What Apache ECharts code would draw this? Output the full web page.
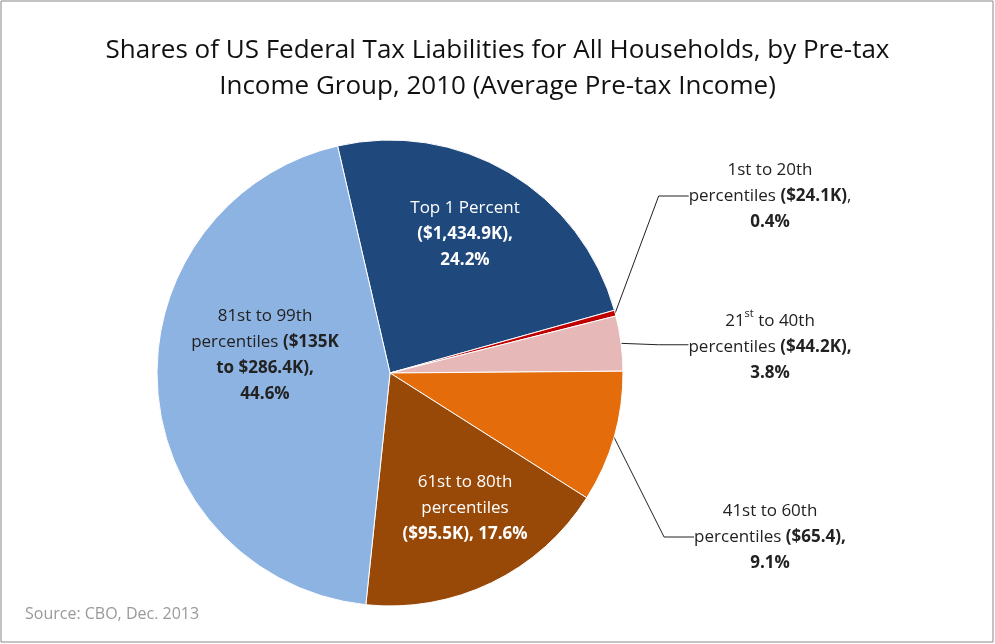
<!DOCTYPE html>
<html><head><meta charset="utf-8">
<script src="https://cdn.jsdelivr.net/npm/echarts@6/dist/echarts.min.js"></script>
<style>html,body{margin:0;padding:0;background:#fff}#c{width:995px;height:644px}</style>
</head><body><div id="c"></div>
<script>
const groups = ['Top 1 Percent', '1st to 20th', '21st to 40th', '41st to 60th', '61st to 80th', '81st to 99th'];
const shares = [24.2, 0.4, 3.8, 9.1, 17.6, 44.6];
const incomes = ['$1,434.9K', '$24.1K', '$44.2K', '$65.4', '$95.5K', '$135K to $286.4K'];
const colors = ['#1f497d', '#c00000', '#e6b9b8', '#e46c0a', '#984807', '#8db3e2'];

// texto de cada etiqueta (rich)
const labelTexts = [
  '{n|Top 1 Percent}\n{b|(' + incomes[0] + '),}\n{b|' + shares[0] + '%}',
  '{d|1st to 20th}\n{d|percentiles }{db|(' + incomes[1] + ')}{d|,}\n{db|' + shares[1] + '%}',
  '{d|21}{sup|st}{d| to 40th}\n{d|percentiles }{db|(' + incomes[2] + '),}\n{db|' + shares[2] + '%}',
  '{d|41st to 60th}\n{d|percentiles }{db|(' + incomes[3] + '),}\n{db|' + shares[3] + '%}',
  '{n|61st to 80th}\n{n|percentiles}\n{b|(' + incomes[4] + '), ' + shares[4] + '%}',
  '{d|81st to 99th}\n{d|percentiles }{db|($135K}\n{db|to $286.4K),}\n{db|' + shares[5] + '%}'
];
const labelPos = [[465, 234], [770, 196], [770, 347], [770, 537], [465, 508], [265, 355]];

const font = 'Open Sans, Lato, sans-serif';
const rich = {
  n: { color: '#fff', fontSize: 17, fontFamily: font, lineHeight: 26 },
  b: { color: '#fff', fontSize: 17, fontWeight: 'bold', fontFamily: font, lineHeight: 26 },
  d: { color: '#222', fontSize: 17, fontFamily: font, lineHeight: 26 },
  db: { color: '#222', fontSize: 17, fontWeight: 'bold', fontFamily: font, lineHeight: 26 },
  sup: { color: '#222', fontSize: 11, fontFamily: font, verticalAlign: 'top', lineHeight: 26 }
};

const chart = echarts.init(document.getElementById('c'));
chart.setOption({
  backgroundColor: '#fff',
  title: {
    text: 'Shares of US Federal Tax Liabilities for All Households, by Pre-tax\nIncome Group, 2010 (Average Pre-tax Income)',
    left: 'center', top: 28,
    textStyle: { fontFamily: font, fontSize: 26, fontWeight: 'normal', color: '#111', lineHeight: 36 }
  },
  graphic: [
    { type: 'rect', shape: { x: 1, y: 1, width: 992, height: 641 }, style: { fill: 'none', stroke: '#888', lineWidth: 1 } },
    { type: 'text', left: 25, top: 606, style: { text: 'Source: CBO, Dec. 2013', fill: '#999', font: '16px ' + font } }
  ],
  series: [{
    type: 'pie',
    center: [390, 373],
    radius: [0, 233],
    startAngle: 103,
    clockwise: true,
    silent: true,
    itemStyle: { borderColor: '#fff', borderWidth: 1 },
    data: groups.map((g, i) => ({
      name: g, value: shares[i],
      itemStyle: { color: colors[i] },
      label: {
        show: true, position: (i >= 1 && i <= 3) ? 'outside' : 'inside',
        formatter: labelTexts[i], rich: rich, align: 'center'
      },
      labelLine: { show: i >= 1 && i <= 3, length: 30, length2: 30, lineStyle: { color: '#222', width: 1 } }
    })),
    labelLayout: p => ({
      x: labelPos[p.dataIndex][0], y: labelPos[p.dataIndex][1],
      align: 'center', verticalAlign: 'middle'
    })
  }]
});
</script></body></html>
